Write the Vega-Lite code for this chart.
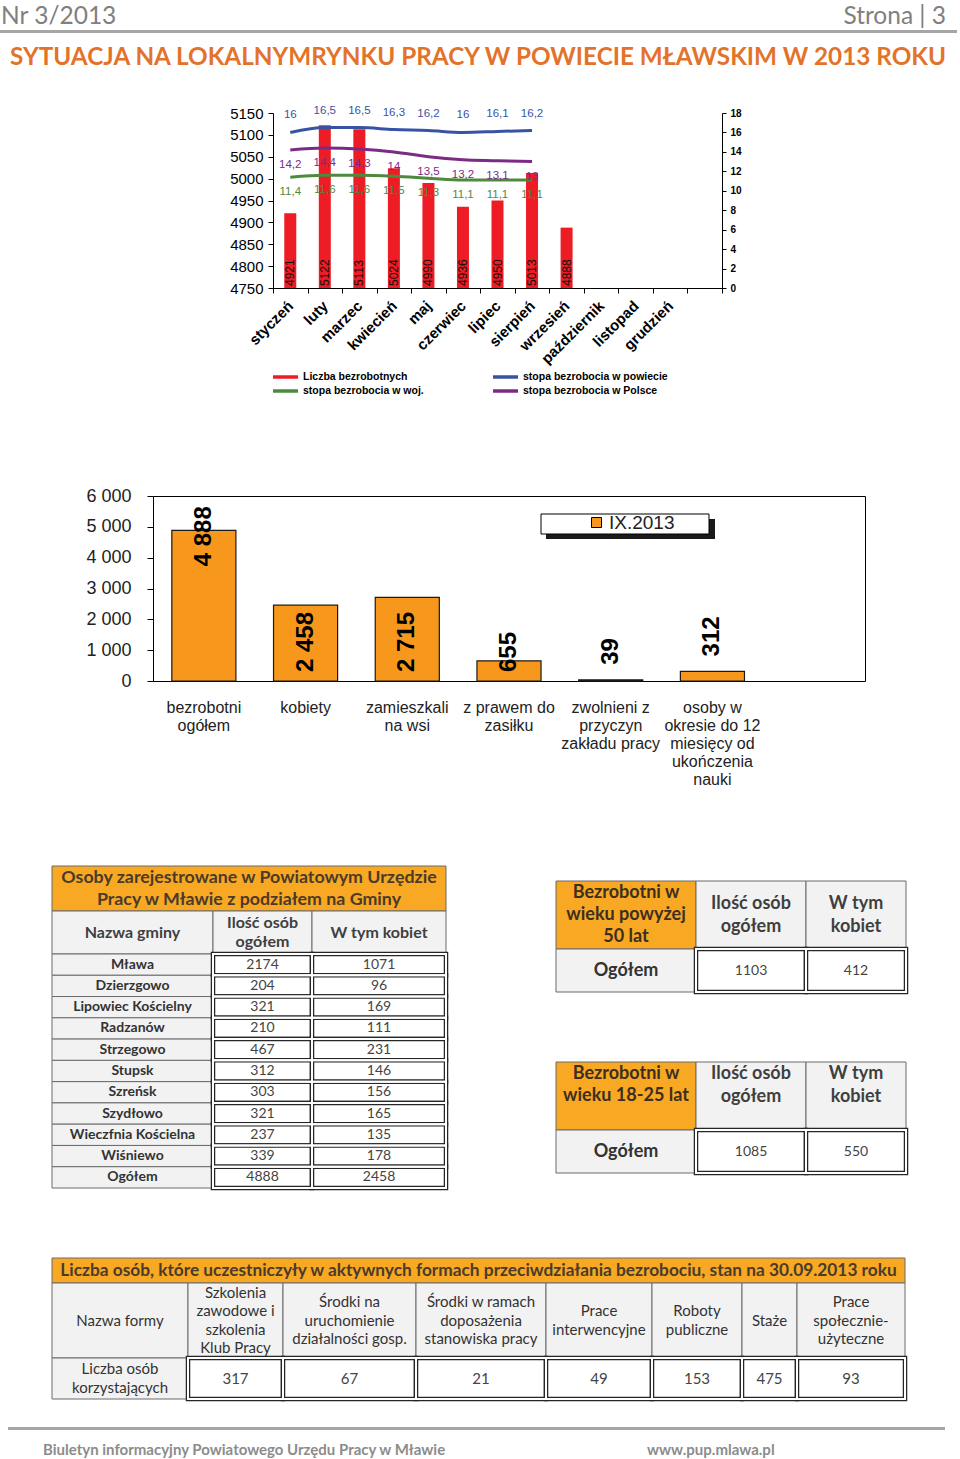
{
  "$schema": "https://vega.github.io/schema/vega-lite/v6.json",
  "width": 960,
  "height": 1459,
  "padding": 0,
  "autosize": {"type": "none"},
  "background": "white",
  "config": {
    "view": {"stroke": null},
    "axis": {"grid": false},
    "locale": {"number": {"decimal": ",", "thousands": " ", "grouping": [3], "currency": ["", " zł"]}}
  },
  "datasets": {
    "bars1": [
      {"m": "styczeń", "v": 4921}, {"m": "luty", "v": 5122}, {"m": "marzec", "v": 5113},
      {"m": "kwiecień", "v": 5024}, {"m": "maj", "v": 4990}, {"m": "czerwiec", "v": 4936},
      {"m": "lipiec", "v": 4950}, {"m": "sierpień", "v": 5013}, {"m": "wrzesień", "v": 4888}
    ],
    "lines1": [
      {"m": "styczeń", "s": "stopa bezrobocia w powiecie", "v": 16},
      {"m": "luty", "s": "stopa bezrobocia w powiecie", "v": 16.5},
      {"m": "marzec", "s": "stopa bezrobocia w powiecie", "v": 16.5},
      {"m": "kwiecień", "s": "stopa bezrobocia w powiecie", "v": 16.3},
      {"m": "maj", "s": "stopa bezrobocia w powiecie", "v": 16.2},
      {"m": "czerwiec", "s": "stopa bezrobocia w powiecie", "v": 16},
      {"m": "lipiec", "s": "stopa bezrobocia w powiecie", "v": 16.1},
      {"m": "sierpień", "s": "stopa bezrobocia w powiecie", "v": 16.2},
      {"m": "styczeń", "s": "stopa bezrobocia w Polsce", "v": 14.2},
      {"m": "luty", "s": "stopa bezrobocia w Polsce", "v": 14.4},
      {"m": "marzec", "s": "stopa bezrobocia w Polsce", "v": 14.3},
      {"m": "kwiecień", "s": "stopa bezrobocia w Polsce", "v": 14},
      {"m": "maj", "s": "stopa bezrobocia w Polsce", "v": 13.5},
      {"m": "czerwiec", "s": "stopa bezrobocia w Polsce", "v": 13.2},
      {"m": "lipiec", "s": "stopa bezrobocia w Polsce", "v": 13.1},
      {"m": "sierpień", "s": "stopa bezrobocia w Polsce", "v": 13},
      {"m": "styczeń", "s": "stopa bezrobocia w woj.", "v": 11.4},
      {"m": "luty", "s": "stopa bezrobocia w woj.", "v": 11.6},
      {"m": "marzec", "s": "stopa bezrobocia w woj.", "v": 11.6},
      {"m": "kwiecień", "s": "stopa bezrobocia w woj.", "v": 11.5},
      {"m": "maj", "s": "stopa bezrobocia w woj.", "v": 11.3},
      {"m": "czerwiec", "s": "stopa bezrobocia w woj.", "v": 11.1},
      {"m": "lipiec", "s": "stopa bezrobocia w woj.", "v": 11.1},
      {"m": "sierpień", "s": "stopa bezrobocia w woj.", "v": 11.1}
    ],
    "bars2": [
      {"k": "bezrobotni\nogółem", "v": 4888},
      {"k": "kobiety", "v": 2458},
      {"k": "zamieszkali\nna wsi", "v": 2715},
      {"k": "z prawem do\nzasiłku", "v": 655},
      {"k": "zwolnieni z\nprzyczyn\nzakładu pracy", "v": 39},
      {"k": "osoby w\nokresie do 12\nmiesięcy od\nukończenia\nnauki", "v": 312}
    ],
    "t1": [
      {"r": 0, "r2": 1, "c": 0, "c2": 3, "kind": "title", "text": "Osoby zarejestrowane w Powiatowym Urzędzie\nPracy w Mławie z podziałem na Gminy"},
      {"r": 1, "r2": 2, "c": 0, "c2": 1, "kind": "head", "text": "Nazwa gminy"},
      {"r": 1, "r2": 2, "c": 1, "c2": 2, "kind": "head", "text": "Ilość osób\nogółem"},
      {"r": 1, "r2": 2, "c": 2, "c2": 3, "kind": "head", "text": "W tym kobiet"},
      {"r": 2, "r2": 3, "c": 0, "c2": 1, "kind": "label", "text": "Mława"},
      {"r": 2, "r2": 3, "c": 1, "c2": 2, "kind": "num", "text": 2174},
      {"r": 2, "r2": 3, "c": 2, "c2": 3, "kind": "num", "text": 1071},
      {"r": 3, "r2": 4, "c": 0, "c2": 1, "kind": "label", "text": "Dzierzgowo"},
      {"r": 3, "r2": 4, "c": 1, "c2": 2, "kind": "num", "text": 204},
      {"r": 3, "r2": 4, "c": 2, "c2": 3, "kind": "num", "text": 96},
      {"r": 4, "r2": 5, "c": 0, "c2": 1, "kind": "label", "text": "Lipowiec Kościelny"},
      {"r": 4, "r2": 5, "c": 1, "c2": 2, "kind": "num", "text": 321},
      {"r": 4, "r2": 5, "c": 2, "c2": 3, "kind": "num", "text": 169},
      {"r": 5, "r2": 6, "c": 0, "c2": 1, "kind": "label", "text": "Radzanów"},
      {"r": 5, "r2": 6, "c": 1, "c2": 2, "kind": "num", "text": 210},
      {"r": 5, "r2": 6, "c": 2, "c2": 3, "kind": "num", "text": 111},
      {"r": 6, "r2": 7, "c": 0, "c2": 1, "kind": "label", "text": "Strzegowo"},
      {"r": 6, "r2": 7, "c": 1, "c2": 2, "kind": "num", "text": 467},
      {"r": 6, "r2": 7, "c": 2, "c2": 3, "kind": "num", "text": 231},
      {"r": 7, "r2": 8, "c": 0, "c2": 1, "kind": "label", "text": "Stupsk"},
      {"r": 7, "r2": 8, "c": 1, "c2": 2, "kind": "num", "text": 312},
      {"r": 7, "r2": 8, "c": 2, "c2": 3, "kind": "num", "text": 146},
      {"r": 8, "r2": 9, "c": 0, "c2": 1, "kind": "label", "text": "Szreńsk"},
      {"r": 8, "r2": 9, "c": 1, "c2": 2, "kind": "num", "text": 303},
      {"r": 8, "r2": 9, "c": 2, "c2": 3, "kind": "num", "text": 156},
      {"r": 9, "r2": 10, "c": 0, "c2": 1, "kind": "label", "text": "Szydłowo"},
      {"r": 9, "r2": 10, "c": 1, "c2": 2, "kind": "num", "text": 321},
      {"r": 9, "r2": 10, "c": 2, "c2": 3, "kind": "num", "text": 165},
      {"r": 10, "r2": 11, "c": 0, "c2": 1, "kind": "label", "text": "Wieczfnia Kościelna"},
      {"r": 10, "r2": 11, "c": 1, "c2": 2, "kind": "num", "text": 237},
      {"r": 10, "r2": 11, "c": 2, "c2": 3, "kind": "num", "text": 135},
      {"r": 11, "r2": 12, "c": 0, "c2": 1, "kind": "label", "text": "Wiśniewo"},
      {"r": 11, "r2": 12, "c": 1, "c2": 2, "kind": "num", "text": 339},
      {"r": 11, "r2": 12, "c": 2, "c2": 3, "kind": "num", "text": 178},
      {"r": 12, "r2": 13, "c": 0, "c2": 1, "kind": "label", "text": "Ogółem"},
      {"r": 12, "r2": 13, "c": 1, "c2": 2, "kind": "num", "text": 4888},
      {"r": 12, "r2": 13, "c": 2, "c2": 3, "kind": "num", "text": 2458}
    ],
    "t23": [
      {"r": 0, "r2": 1, "c": 0, "c2": 1, "kind": "ohead", "text": "Bezrobotni w\nwieku powyżej\n50 lat"},
      {"r": 0, "r2": 1, "c": 1, "c2": 2, "kind": "head", "text": "Ilość osób\nogółem"},
      {"r": 0, "r2": 1, "c": 2, "c2": 3, "kind": "head", "text": "W tym\nkobiet"},
      {"r": 1, "r2": 2, "c": 0, "c2": 1, "kind": "label", "text": "Ogółem"},
      {"r": 1, "r2": 2, "c": 1, "c2": 2, "kind": "num", "text": 1103},
      {"r": 1, "r2": 2, "c": 2, "c2": 3, "kind": "num", "text": 412},
      {"r": 3, "r2": 4, "c": 0, "c2": 1, "kind": "ohead", "text": "Bezrobotni w\nwieku 18-25 lat"},
      {"r": 3, "r2": 4, "c": 1, "c2": 2, "kind": "head", "text": "Ilość osób\nogółem"},
      {"r": 3, "r2": 4, "c": 2, "c2": 3, "kind": "head", "text": "W tym\nkobiet"},
      {"r": 4, "r2": 5, "c": 0, "c2": 1, "kind": "label", "text": "Ogółem"},
      {"r": 4, "r2": 5, "c": 1, "c2": 2, "kind": "num", "text": 1085},
      {"r": 4, "r2": 5, "c": 2, "c2": 3, "kind": "num", "text": 550}
    ],
    "t4": [
      {"r": 0, "r2": 1, "c": 0, "c2": 8, "kind": "title", "text": "Liczba osób, które uczestniczyły w aktywnych formach przeciwdziałania bezrobociu, stan na 30.09.2013 roku"},
      {"r": 1, "r2": 2, "c": 0, "c2": 1, "kind": "head", "text": "Nazwa formy"},
      {"r": 1, "r2": 2, "c": 1, "c2": 2, "kind": "head", "text": "Szkolenia\nzawodowe i\nszkolenia\nKlub Pracy"},
      {"r": 1, "r2": 2, "c": 2, "c2": 3, "kind": "head", "text": "Środki na\nuruchomienie\ndziałalności gosp."},
      {"r": 1, "r2": 2, "c": 3, "c2": 4, "kind": "head", "text": "Środki w ramach\ndoposażenia\nstanowiska pracy"},
      {"r": 1, "r2": 2, "c": 4, "c2": 5, "kind": "head", "text": "Prace\ninterwencyjne"},
      {"r": 1, "r2": 2, "c": 5, "c2": 6, "kind": "head", "text": "Roboty\npubliczne"},
      {"r": 1, "r2": 2, "c": 6, "c2": 7, "kind": "head", "text": "Staże"},
      {"r": 1, "r2": 2, "c": 7, "c2": 8, "kind": "head", "text": "Prace\nspołecznie-\nużyteczne"},
      {"r": 2, "r2": 3, "c": 0, "c2": 1, "kind": "label", "text": "Liczba osób\nkorzystających"},
      {"r": 2, "r2": 3, "c": 1, "c2": 2, "kind": "num", "text": 317},
      {"r": 2, "r2": 3, "c": 2, "c2": 3, "kind": "num", "text": 67},
      {"r": 2, "r2": 3, "c": 3, "c2": 4, "kind": "num", "text": 21},
      {"r": 2, "r2": 3, "c": 4, "c2": 5, "kind": "num", "text": 49},
      {"r": 2, "r2": 3, "c": 5, "c2": 6, "kind": "num", "text": 153},
      {"r": 2, "r2": 3, "c": 6, "c2": 7, "kind": "num", "text": 475},
      {"r": 2, "r2": 3, "c": 7, "c2": 8, "kind": "num", "text": 93}
    ]
  },
  "resolve": {"scale": {"x": "independent", "y": "independent", "color": "independent", "fill": "independent"}},
  "layer": [
    {
      "data": {"values": [{"id": "nr", "text": "Nr 3/2013"}]},
      "mark": {"type": "text", "align": "left", "baseline": "top", "font": "Lato", "fontSize": 24.5, "color": "#808080"},
      "encoding": {
        "x": {"field": "id", "type": "nominal", "scale": {"type": "point", "domain": ["nr"], "range": [1, 1], "padding": 0}, "axis": null},
        "y": {"field": "id", "type": "nominal", "scale": {"type": "point", "domain": ["nr"], "range": [5, 5], "padding": 0}, "axis": null},
        "text": {"field": "text", "type": "nominal"}
      }
    },
    {
      "data": {"values": [{"id": "st", "text": "Strona | 3"}]},
      "mark": {"type": "text", "align": "right", "baseline": "top", "font": "Lato", "fontSize": 24.5, "color": "#808080"},
      "encoding": {
        "x": {"field": "id", "type": "nominal", "scale": {"type": "point", "domain": ["st"], "range": [946, 946], "padding": 0}, "axis": null},
        "y": {"field": "id", "type": "nominal", "scale": {"type": "point", "domain": ["st"], "range": [5, 5], "padding": 0}, "axis": null},
        "text": {"field": "text", "type": "nominal"}
      }
    },
    {
      "data": {"values": [{"id": "hl"}]},
      "mark": {"type": "rect", "fill": "#A6A6A6"},
      "encoding": {
        "x": {"field": "id", "type": "nominal", "scale": {"type": "band", "domain": ["hl"], "range": [0, 957], "paddingInner": 0, "paddingOuter": 0}, "axis": null},
        "y": {"field": "id", "type": "nominal", "scale": {"type": "band", "domain": ["hl"], "range": [30, 33], "paddingInner": 0, "paddingOuter": 0}, "axis": null}
      }
    },
    {
      "data": {"values": [{"id": "title", "text": "SYTUACJA NA LOKALNYMRYNKU PRACY W POWIECIE MŁAWSKIM W 2013 ROKU"}]},
      "mark": {"type": "text", "align": "center", "baseline": "middle", "font": "Lato", "fontSize": 24.3, "fontWeight": "bold", "color": "#E3732B"},
      "encoding": {
        "x": {"field": "id", "type": "nominal", "scale": {"type": "point", "domain": ["title"], "range": [478, 478], "padding": 0}, "axis": null},
        "y": {"field": "id", "type": "nominal", "scale": {"type": "point", "domain": ["title"], "range": [58, 58], "padding": 0}, "axis": null},
        "text": {"field": "text", "type": "nominal"}
      }
    },
    {
      "data": {"values": [{"id": "fl"}]},
      "mark": {"type": "rect", "fill": "#A6A6A6"},
      "encoding": {
        "x": {"field": "id", "type": "nominal", "scale": {"type": "band", "domain": ["fl"], "range": [8, 945], "paddingInner": 0, "paddingOuter": 0}, "axis": null},
        "y": {"field": "id", "type": "nominal", "scale": {"type": "band", "domain": ["fl"], "range": [1427, 1430], "paddingInner": 0, "paddingOuter": 0}, "axis": null}
      }
    },
    {
      "data": {"values": [{"id": "a", "text": "Biuletyn informacyjny Powiatowego Urzędu Pracy w Mławie"}, {"id": "b", "text": "www.pup.mlawa.pl"}]},
      "mark": {"type": "text", "align": "left", "baseline": "middle", "font": "Lato", "fontSize": 15, "fontWeight": "bold", "color": "#8C8C8C"},
      "encoding": {
        "x": {"field": "id", "type": "nominal", "scale": {"type": "point", "domain": ["a", "b"], "range": [43, 647], "padding": 0}, "axis": null},
        "y": {"field": "id", "type": "nominal", "scale": {"type": "point", "domain": ["a", "b"], "range": [1450, 1450], "padding": 0}, "axis": null},
        "text": {"field": "text", "type": "nominal"}
      }
    },
    {
      "resolve": {"scale": {"y": "independent"}},
      "layer": [
        {
          "data": {"name": "bars1"},
          "layer": [
            {
              "mark": {"type": "bar", "size": 12},
              "encoding": {
                "x": {
                  "field": "m", "type": "nominal", "sort": null,
                  "scale": {"type": "band", "domain": ["styczeń", "luty", "marzec", "kwiecień", "maj", "czerwiec", "lipiec", "sierpień", "wrzesień", "październik", "listopad", "grudzień", " "], "range": [273, 722], "paddingInner": 0, "paddingOuter": 0},
                  "axis": {"orient": "bottom", "offset": -1171, "title": null, "tickBand": "extent", "tickSize": 5, "tickColor": "#000", "domainColor": "#000", "labelAngle": -45, "labelAlign": "right", "labelBaseline": "middle", "labelPadding": 10, "labelFont": "Liberation Sans", "labelFontSize": 15, "labelFontWeight": "bold", "labelColor": "#000"}
                },
                "y": {
                  "field": "v", "type": "quantitative",
                  "scale": {"domain": [4750, 5150], "range": [288, 113], "nice": false, "zero": false},
                  "axis": {"orient": "left", "offset": -273, "title": null, "values": [4750, 4800, 4850, 4900, 4950, 5000, 5050, 5100, 5150], "format": "d", "tickSize": 5, "tickColor": "#000", "domainColor": "#000", "labelFont": "Liberation Sans", "labelFontSize": 15, "labelColor": "#000", "labelPadding": 5}
                },
                "y2": {"datum": 4750},
                "color": {
                  "datum": "Liczba bezrobotnych", "type": "nominal",
                  "scale": {"domain": ["Liczba bezrobotnych", "stopa bezrobocia w powiecie", "stopa bezrobocia w woj.", "stopa bezrobocia w Polsce"], "range": ["#EE1C25", "#3953A4", "#4E8A3E", "#7B2B84"]},
                  "legend": {"orient": "none", "legendX": 271, "legendY": 370, "title": null, "direction": "horizontal", "columns": 2, "columnPadding": 62, "rowPadding": -2, "symbolType": "M-1,0H4", "symbolSize": 100, "symbolStrokeWidth": 3.5, "labelFont": "Liberation Sans", "labelFontSize": 10.5, "labelFontWeight": "bold", "labelColor": "#000", "labelOffset": 18, "padding": 0}
                }
              }
            },
            {
              "mark": {"type": "text", "angle": 270, "align": "left", "baseline": "middle", "dx": 2, "font": "Liberation Sans", "fontSize": 12, "color": "#111"},
              "encoding": {
                "x": {"field": "m", "type": "nominal"},
                "y": {"datum": 4750, "type": "quantitative"},
                "text": {"field": "v", "type": "quantitative", "format": "~g"}
              }
            }
          ]
        },
        {
          "data": {"name": "lines1"},
          "layer": [
            {
              "mark": {"type": "line", "interpolate": "monotone", "strokeWidth": 3},
              "encoding": {
                "x": {"field": "m", "type": "nominal"},
                "y": {
                  "field": "v", "type": "quantitative",
                  "scale": {"domain": [0, 18], "range": [288, 113], "nice": false, "zero": false},
                  "axis": {"orient": "right", "offset": -238, "title": null, "values": [0, 2, 4, 6, 8, 10, 12, 14, 16, 18], "format": "d", "tickSize": 4, "tickColor": "#000", "domainColor": "#000", "labelFont": "Liberation Sans", "labelFontSize": 10, "labelFontWeight": "bold", "labelColor": "#000", "labelPadding": 4}
                },
                "color": {
                  "field": "s", "type": "nominal",
                  "scale": {"domain": ["Liczba bezrobotnych", "stopa bezrobocia w powiecie", "stopa bezrobocia w woj.", "stopa bezrobocia w Polsce"], "range": ["#EE1C25", "#3953A4", "#4E8A3E", "#7B2B84"]},
                  "legend": {"orient": "none", "legendX": 271, "legendY": 370, "title": null, "direction": "horizontal", "columns": 2, "columnPadding": 62, "rowPadding": -2, "symbolType": "M-1,0H4", "symbolSize": 100, "symbolStrokeWidth": 3.5, "labelFont": "Liberation Sans", "labelFontSize": 10.5, "labelFontWeight": "bold", "labelColor": "#000", "labelOffset": 18, "padding": 0}
                }
              }
            },
            {
              "transform": [{"filter": "datum.s == 'stopa bezrobocia w powiecie'"}],
              "mark": {"type": "text", "dy": -17, "font": "Liberation Sans", "fontSize": 11.5, "color": "#3953A4"},
              "encoding": {
                "x": {"field": "m", "type": "nominal"},
                "y": {"field": "v", "type": "quantitative"},
                "text": {"field": "v", "type": "quantitative", "format": "~g"}
              }
            },
            {
              "transform": [{"filter": "datum.s == 'stopa bezrobocia w Polsce'"}],
              "mark": {"type": "text", "dy": 15, "font": "Liberation Sans", "fontSize": 11.5, "color": "#7B2B84"},
              "encoding": {
                "x": {"field": "m", "type": "nominal"},
                "y": {"field": "v", "type": "quantitative"},
                "text": {"field": "v", "type": "quantitative", "format": "~g"}
              }
            },
            {
              "transform": [{"filter": "datum.s == 'stopa bezrobocia w woj.'"}],
              "mark": {"type": "text", "dy": 15, "font": "Liberation Sans", "fontSize": 11.5, "color": "#4E8A3E"},
              "encoding": {
                "x": {"field": "m", "type": "nominal"},
                "y": {"field": "v", "type": "quantitative"},
                "text": {"field": "v", "type": "quantitative", "format": "~g"}
              }
            }
          ]
        }
      ]
    },
    {
      "data": {"values": [{"id": "sh"}]},
      "mark": {"type": "rect", "fill": "#1A1A1A"},
      "encoding": {
        "x": {"field": "id", "type": "nominal", "scale": {"type": "band", "domain": ["sh"], "range": [546, 715], "paddingInner": 0, "paddingOuter": 0}, "axis": null},
        "y": {"field": "id", "type": "nominal", "scale": {"type": "band", "domain": ["sh"], "range": [519, 539], "paddingInner": 0, "paddingOuter": 0}, "axis": null}
      }
    },
    {
      "data": {"values": [{"id": "bx"}]},
      "mark": {"type": "rect", "fill": "#FFFFFF", "stroke": "#000000", "strokeWidth": 1},
      "encoding": {
        "x": {"field": "id", "type": "nominal", "scale": {"type": "band", "domain": ["bx"], "range": [541, 709], "paddingInner": 0, "paddingOuter": 0}, "axis": null},
        "y": {"field": "id", "type": "nominal", "scale": {"type": "band", "domain": ["bx"], "range": [514, 534], "paddingInner": 0, "paddingOuter": 0}, "axis": null}
      }
    },
    {
      "data": {"name": "bars2"},
      "resolve": {"axis": {"x": "independent", "y": "independent"}},
      "layer": [
        {
          "mark": {"type": "bar", "stroke": "#1A1A1A", "strokeWidth": 1.2},
          "encoding": {
            "x": {
              "field": "k", "type": "nominal", "sort": null,
              "scale": {"type": "band", "domain": ["bezrobotni\nogółem", "kobiety", "zamieszkali\nna wsi", "z prawem do\nzasiłku", "zwolnieni z\nprzyczyn\nzakładu pracy", "osoby w\nokresie do 12\nmiesięcy od\nukończenia\nnauki", " "], "range": [153, 865], "paddingInner": 0.37, "paddingOuter": 0.185},
              "axis": {"orient": "bottom", "offset": -778, "title": null, "ticks": false, "tickSize": 0, "domainColor": "#000", "labelExpr": "split(datum.value, '\\n')", "labelFont": "Liberation Sans", "labelFontSize": 16, "labelColor": "#222", "labelBaseline": "top", "labelLineHeight": 18, "labelPadding": 18, "labelAngle": 0, "labelLimit": 0}
            },
            "y": {
              "field": "v", "type": "quantitative",
              "scale": {"domain": [0, 6000], "range": [681, 496], "nice": false},
              "axis": {"orient": "left", "offset": -153, "title": null, "values": [0, 1000, 2000, 3000, 4000, 5000, 6000], "format": ",d", "tickSize": 6, "tickColor": "#000", "domainColor": "#000", "labelFont": "Liberation Sans", "labelFontSize": 18, "labelColor": "#222", "labelPadding": 16}
            },
            "y2": {"datum": 0},
            "color": {
              "datum": "IX.2013", "type": "nominal",
              "scale": {"domain": ["IX.2013"], "range": ["#F7981D"]},
              "legend": {"orient": "none", "legendX": 587, "legendY": 513, "title": null, "symbolType": "square", "symbolSize": 100, "symbolStrokeColor": "#000", "symbolStrokeWidth": 1, "labelFont": "Liberation Sans", "labelFontSize": 19, "labelColor": "#222", "labelOffset": 3, "padding": 0}
            }
          }
        },
        {
          "transform": [{"filter": "datum.v > 4000"}],
          "mark": {"type": "text", "angle": 270, "align": "center", "baseline": "middle", "dx": -6, "font": "Liberation Sans", "fontSize": 24, "fontWeight": "bold", "color": "#000"},
          "encoding": {
            "x": {"field": "k", "type": "nominal", "axis": {"orient": "top", "offset": -496, "title": null, "labels": false, "ticks": false, "domainColor": "#000"}},
            "y": {"field": "v", "type": "quantitative", "axis": {"orient": "right", "offset": -95, "title": null, "labels": false, "ticks": false, "domainColor": "#000"}},
            "text": {"field": "v", "type": "quantitative", "format": ","}
          }
        },
        {
          "transform": [{"filter": "datum.v > 500 && datum.v <= 4000"}],
          "mark": {"type": "text", "angle": 270, "align": "left", "baseline": "middle", "dx": 9, "font": "Liberation Sans", "fontSize": 24, "fontWeight": "bold", "color": "#000"},
          "encoding": {
            "x": {"field": "k", "type": "nominal", "axis": null},
            "y": {"datum": 0, "type": "quantitative", "axis": null},
            "text": {"field": "v", "type": "quantitative", "format": ","}
          }
        },
        {
          "transform": [{"filter": "datum.v <= 500"}],
          "mark": {"type": "text", "angle": 270, "align": "left", "baseline": "middle", "dx": 15, "font": "Liberation Sans", "fontSize": 24, "fontWeight": "bold", "color": "#000"},
          "encoding": {
            "x": {"field": "k", "type": "nominal", "axis": null},
            "y": {"field": "v", "type": "quantitative", "axis": null},
            "text": {"field": "v", "type": "quantitative", "format": ","}
          }
        }
      ]
    },
    {
      "data": {"name": "t1"},
      "resolve": {"scale": {"x": "independent", "y": "independent", "fill": "independent"}},
      "layer": [
        {
          "layer": [
            {
              "transform": [{"filter": "datum.kind != 'num'"}],
              "mark": {"type": "rect", "stroke": "#6B6B6B", "strokeWidth": 1},
              "encoding": {
                "x": {"field": "c", "type": "quantitative", "scale": {"domain": [0, 1, 2, 3], "range": [52, 213, 312, 446], "nice": false, "zero": false}, "axis": null},
                "x2": {"field": "c2"},
                "y": {"field": "r", "type": "quantitative", "scale": {"domain": [0, 1, 2, 13], "range": [866, 911, 954, 1188], "nice": false, "zero": false}, "axis": null},
                "y2": {"field": "r2"},
                "fill": {"field": "kind", "type": "nominal", "scale": {"domain": ["title", "ohead", "head", "label"], "range": ["#F8A823", "#F8A823", "#F2F2F2", "#F2F2F2"]}, "legend": null}
              }
            },
            {
              "transform": [{"filter": "datum.kind == 'num'"}],
              "mark": {"type": "rect", "fill": "#FFFFFF", "stroke": "#262626", "strokeWidth": 4.5},
              "encoding": {
                "x": {"field": "c", "type": "quantitative", "axis": null},
                "x2": {"field": "c2"},
                "y": {"field": "r", "type": "quantitative", "axis": null},
                "y2": {"field": "r2"}
              }
            },
            {
              "transform": [{"filter": "datum.kind == 'num'"}],
              "mark": {"type": "rect", "fill": "transparent", "stroke": "#FFFFFF", "strokeWidth": 2},
              "encoding": {
                "x": {"field": "c", "type": "quantitative", "axis": null},
                "x2": {"field": "c2"},
                "y": {"field": "r", "type": "quantitative", "axis": null},
                "y2": {"field": "r2"}
              }
            }
          ]
        },
        {
          "layer": [
            {
              "transform": [{"filter": "datum.kind == 'head'"}],
              "mark": {"type": "text", "font": "Lato", "fontSize": 16, "fontWeight": "bold", "color": "#3F3F3F", "lineBreak": "\n", "lineHeight": 19, "dy": {"expr": "-(length(split(datum.text, '\\n')) - 1) * 9.5"}},
              "encoding": {
                "x": {"field": "c", "type": "quantitative", "scale": {"domain": [0, 1, 2], "range": [132.5, 262.5, 379], "nice": false, "zero": false}, "axis": null},
                "y": {"field": "r", "type": "quantitative", "scale": {"domain": [1, 2, 12], "range": [932.5, 964.6, 1177.4], "nice": false, "zero": false}, "axis": null},
                "text": {"field": "text", "type": "nominal"}
              }
            },
            {
              "transform": [{"filter": "datum.kind == 'label'"}],
              "mark": {"type": "text", "font": "Lato", "fontSize": 14, "fontWeight": "bold", "color": "#333333"},
              "encoding": {
                "x": {"field": "c", "type": "quantitative", "axis": null},
                "y": {"field": "r", "type": "quantitative", "axis": null},
                "text": {"field": "text", "type": "nominal"}
              }
            },
            {
              "transform": [{"filter": "datum.kind == 'num'"}],
              "mark": {"type": "text", "font": "Lato", "fontSize": 14, "color": "#444444"},
              "encoding": {
                "x": {"field": "c", "type": "quantitative", "axis": null},
                "y": {"field": "r", "type": "quantitative", "axis": null},
                "text": {"field": "text", "type": "nominal"}
              }
            }
          ]
        },
        {
          "transform": [{"filter": "datum.kind == 'title'"}],
          "mark": {"type": "text", "font": "Lato", "fontSize": 17.8, "fontWeight": "bold", "color": "#4A3B2A", "lineBreak": "\n", "lineHeight": 22, "dy": -11},
          "encoding": {
            "x": {"field": "kind", "type": "nominal", "scale": {"type": "point", "domain": ["title"], "range": [249, 249], "padding": 0}, "axis": null},
            "y": {"field": "kind", "type": "nominal", "scale": {"type": "point", "domain": ["title"], "range": [888.5, 888.5], "padding": 0}, "axis": null},
            "text": {"field": "text", "type": "nominal"}
          }
        }
      ]
    },
    {
      "data": {"name": "t23"},
      "resolve": {"scale": {"x": "independent", "y": "independent", "fill": "independent"}},
      "layer": [
        {
          "layer": [
            {
              "transform": [{"filter": "datum.kind != 'num'"}],
              "mark": {"type": "rect", "stroke": "#6B6B6B", "strokeWidth": 1},
              "encoding": {
                "x": {"field": "c", "type": "quantitative", "scale": {"domain": [0, 1, 2, 3], "range": [556, 696, 806, 906], "nice": false, "zero": false}, "axis": null},
                "x2": {"field": "c2"},
                "y": {"field": "r", "type": "quantitative", "scale": {"domain": [0, 1, 2, 3, 4, 5], "range": [881, 949, 992, 1062, 1130, 1173], "nice": false, "zero": false}, "axis": null},
                "y2": {"field": "r2"},
                "fill": {"field": "kind", "type": "nominal", "scale": {"domain": ["title", "ohead", "head", "label"], "range": ["#F8A823", "#F8A823", "#F2F2F2", "#F2F2F2"]}, "legend": null}
              }
            },
            {
              "transform": [{"filter": "datum.kind == 'num'"}],
              "mark": {"type": "rect", "fill": "#FFFFFF", "stroke": "#262626", "strokeWidth": 4.5},
              "encoding": {
                "x": {"field": "c", "type": "quantitative", "axis": null},
                "x2": {"field": "c2"},
                "y": {"field": "r", "type": "quantitative", "axis": null},
                "y2": {"field": "r2"}
              }
            },
            {
              "transform": [{"filter": "datum.kind == 'num'"}],
              "mark": {"type": "rect", "fill": "transparent", "stroke": "#FFFFFF", "strokeWidth": 2},
              "encoding": {
                "x": {"field": "c", "type": "quantitative", "axis": null},
                "x2": {"field": "c2"},
                "y": {"field": "r", "type": "quantitative", "axis": null},
                "y2": {"field": "r2"}
              }
            }
          ]
        },
        {
          "layer": [
            {
              "transform": [{"filter": "datum.kind == 'ohead'"}],
              "mark": {"type": "text", "font": "Lato", "fontSize": 18, "fontWeight": "bold", "color": "#3D2F1F", "lineBreak": "\n", "lineHeight": 22, "dy": {"expr": "-(length(split(datum.text, '\\n')) - 1) * 11"}},
              "encoding": {
                "x": {"field": "c", "type": "quantitative", "scale": {"domain": [0, 1, 2], "range": [626, 751, 856], "nice": false, "zero": false}, "axis": null},
                "y": {"field": "r", "type": "quantitative", "scale": {"domain": [0, 1, 3, 4], "range": [915, 970.5, 1085, 1151.5], "nice": false, "zero": false}, "axis": null},
                "text": {"field": "text", "type": "nominal"}
              }
            },
            {
              "transform": [{"filter": "datum.kind == 'head'"}],
              "mark": {"type": "text", "font": "Lato", "fontSize": 18, "fontWeight": "bold", "color": "#3F3F3F", "lineBreak": "\n", "lineHeight": 23, "dy": {"expr": "-(length(split(datum.text, '\\n')) - 1) * 11.5"}},
              "encoding": {
                "x": {"field": "c", "type": "quantitative", "axis": null},
                "y": {"field": "r", "type": "quantitative", "axis": null},
                "text": {"field": "text", "type": "nominal"}
              }
            },
            {
              "transform": [{"filter": "datum.kind == 'label'"}],
              "mark": {"type": "text", "font": "Lato", "fontSize": 18, "fontWeight": "bold", "color": "#333333"},
              "encoding": {
                "x": {"field": "c", "type": "quantitative", "axis": null},
                "y": {"field": "r", "type": "quantitative", "axis": null},
                "text": {"field": "text", "type": "nominal"}
              }
            },
            {
              "transform": [{"filter": "datum.kind == 'num'"}],
              "mark": {"type": "text", "font": "Lato", "fontSize": 14, "color": "#444444"},
              "encoding": {
                "x": {"field": "c", "type": "quantitative", "axis": null},
                "y": {"field": "r", "type": "quantitative", "axis": null},
                "text": {"field": "text", "type": "nominal"}
              }
            }
          ]
        }
      ]
    },
    {
      "data": {"name": "t4"},
      "resolve": {"scale": {"x": "independent", "y": "independent", "fill": "independent"}},
      "layer": [
        {
          "layer": [
            {
              "transform": [{"filter": "datum.kind != 'num'"}],
              "mark": {"type": "rect", "stroke": "#6B6B6B", "strokeWidth": 1},
              "encoding": {
                "x": {"field": "c", "type": "quantitative", "scale": {"domain": [0, 1, 2, 3, 4, 5, 6, 7, 8], "range": [52, 188, 283, 416, 546, 652, 742, 797, 905], "nice": false, "zero": false}, "axis": null},
                "x2": {"field": "c2"},
                "y": {"field": "r", "type": "quantitative", "scale": {"domain": [0, 1, 2, 3], "range": [1258, 1283, 1358, 1399], "nice": false, "zero": false}, "axis": null},
                "y2": {"field": "r2"},
                "fill": {"field": "kind", "type": "nominal", "scale": {"domain": ["title", "ohead", "head", "label"], "range": ["#F8A823", "#F8A823", "#F2F2F2", "#F2F2F2"]}, "legend": null}
              }
            },
            {
              "transform": [{"filter": "datum.kind == 'num'"}],
              "mark": {"type": "rect", "fill": "#FFFFFF", "stroke": "#262626", "strokeWidth": 4.5},
              "encoding": {
                "x": {"field": "c", "type": "quantitative", "axis": null},
                "x2": {"field": "c2"},
                "y": {"field": "r", "type": "quantitative", "axis": null},
                "y2": {"field": "r2"}
              }
            },
            {
              "transform": [{"filter": "datum.kind == 'num'"}],
              "mark": {"type": "rect", "fill": "transparent", "stroke": "#FFFFFF", "strokeWidth": 2},
              "encoding": {
                "x": {"field": "c", "type": "quantitative", "axis": null},
                "x2": {"field": "c2"},
                "y": {"field": "r", "type": "quantitative", "axis": null},
                "y2": {"field": "r2"}
              }
            }
          ]
        },
        {
          "layer": [
            {
              "transform": [{"filter": "datum.kind == 'head' || datum.kind == 'label'"}],
              "mark": {"type": "text", "font": "Lato", "fontSize": 15, "color": "#333333", "lineBreak": "\n", "lineHeight": 18.5, "dy": {"expr": "-(length(split(datum.text, '\\n')) - 1) * 9.25"}},
              "encoding": {
                "x": {"field": "c", "type": "quantitative", "scale": {"domain": [0, 1, 2, 3, 4, 5, 6, 7], "range": [120, 235.5, 349.5, 481, 599, 697, 769.5, 851], "nice": false, "zero": false}, "axis": null},
                "y": {"field": "r", "type": "quantitative", "scale": {"domain": [1, 2], "range": [1320.5, 1378.5], "nice": false, "zero": false}, "axis": null},
                "text": {"field": "text", "type": "nominal"}
              }
            },
            {
              "transform": [{"filter": "datum.kind == 'num'"}],
              "mark": {"type": "text", "font": "Lato", "fontSize": 15, "color": "#444444"},
              "encoding": {
                "x": {"field": "c", "type": "quantitative", "axis": null},
                "y": {"field": "r", "type": "quantitative", "axis": null},
                "text": {"field": "text", "type": "nominal"}
              }
            }
          ]
        },
        {
          "transform": [{"filter": "datum.kind == 'title'"}],
          "mark": {"type": "text", "font": "Lato", "fontSize": 17.3, "fontWeight": "bold", "color": "#4A3B2A"},
          "encoding": {
            "x": {"field": "kind", "type": "nominal", "scale": {"type": "point", "domain": ["title"], "range": [478.5, 478.5], "padding": 0}, "axis": null},
            "y": {"field": "kind", "type": "nominal", "scale": {"type": "point", "domain": ["title"], "range": [1270.5, 1270.5], "padding": 0}, "axis": null},
            "text": {"field": "text", "type": "nominal"}
          }
        }
      ]
    }
  ]
}
